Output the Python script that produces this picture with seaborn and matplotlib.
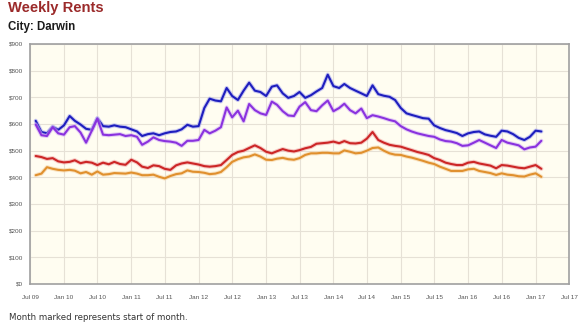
import matplotlib
matplotlib.use("Agg")
import matplotlib.pyplot as plt
import matplotlib.patheffects as pe
import pandas as pd
import seaborn as sns

# Monthly observations, Aug 2009 - Feb 2017
months = pd.date_range("2009-08-01", "2017-02-01", freq="MS")

series_names = ["Houses 4 bed", "Houses 3 bed", "Units 3 bed", "Units 2 bed"]

houses_4 = [
    612, 570, 565, 590, 578, 595, 630, 612, 598, 582, 578, 622, 592, 590, 595,
    590, 588, 580, 572, 555, 562, 565, 558, 565, 570, 572, 580, 597, 590, 592,
    660, 695, 688, 685, 735, 705, 690, 725, 755, 725, 720, 705, 740, 745, 715,
    698, 705, 720, 698, 708, 722, 735, 785, 742, 735, 750, 735, 725, 715, 705,
    745, 712, 706, 702, 690, 660, 640, 634, 628, 622, 620, 595, 585, 577, 572,
    566, 555, 565, 570, 572, 561, 556, 552, 575, 572, 562, 548, 540, 552, 575,
    572,
]
houses_3 = [
    598, 558, 555, 588, 565, 560, 588, 592, 568, 530, 575, 620, 560, 558, 560,
    562, 555, 558, 552, 522, 534, 550, 540, 536, 534, 530, 518, 537, 537, 540,
    578, 565, 575, 588, 662, 625, 650, 610, 675, 652, 640, 634, 684, 672, 648,
    632, 630, 665, 682, 652, 648, 670, 688, 648, 660, 676, 652, 640, 658, 622,
    633, 628, 622, 615, 610, 592, 580, 572, 565, 560, 555, 552, 542, 536, 534,
    528, 518, 520, 530, 540, 530, 520, 510, 540, 530, 525, 520, 505, 512, 515,
    537,
]
units_3 = [
    480, 476, 469, 472, 460, 456, 458, 464, 453, 458, 455, 446, 455, 449, 458,
    450, 447, 466, 456, 440, 435, 445, 442, 432, 428, 445, 452, 456, 452, 448,
    442, 440, 442, 446, 465, 484, 495, 500, 510, 520, 510, 496, 490, 498, 506,
    500, 497, 502, 509, 514, 526, 528, 530, 534, 528, 536, 528, 527, 530, 545,
    570, 540, 530, 522, 518, 515, 508, 502, 495, 490, 484, 472, 465, 455, 450,
    446, 446, 455, 458, 452, 448, 444, 434, 446, 444, 440, 436, 434, 440, 446,
    432,
]
units_2 = [
    408, 414, 438, 432, 428, 426, 428, 425, 415, 420, 410, 422, 410, 412, 416,
    415, 414, 418, 414, 408, 408, 410, 402, 396, 405, 412, 415, 426, 421, 420,
    417, 412, 414, 420, 438, 458, 468, 475, 478, 486, 478, 466, 465, 470, 473,
    468, 466, 472, 484, 490, 490, 492, 492, 490, 490, 501, 496, 490, 492, 500,
    510, 512, 500, 490, 485, 484, 478, 474, 468, 462, 455, 450, 440, 432, 424,
    424, 424, 430, 432, 424, 420, 416, 409, 415, 410, 408, 404, 403, 410, 415,
    402,
]

line_colors = ["#1e1ebe", "#8a32de", "#cc2626", "#e0902e"]
glow_colors = ["#a4a4ee", "#d2aef5", "#f0a8a8", "#f6d2a2"]

y_ticks = list(range(0, 1000, 100))
y_labels = ["$" + str(v) for v in y_ticks]

frames = []
for name, vals in zip(series_names, [houses_4, houses_3, units_3, units_2]):
    frames.append(pd.DataFrame({"month": months, "rent": vals, "series": name}))
df = pd.concat(frames, ignore_index=True)

sns.set_theme(style="white")
plt.rcParams["font.family"] = ["Liberation Sans", "DejaVu Sans"]

fig = plt.figure(figsize=(5.8, 3.28), dpi=100)
ax = fig.add_axes([30 / 580, 1 - 284 / 328, 539 / 580, 240 / 328])
ax.set_facecolor("#fffdf1")

sns.lineplot(
    data=df, x="month", y="rent", hue="series", hue_order=series_names,
    palette=line_colors, linewidth=1.5, legend=False, ax=ax, zorder=3,
)
for line, glow in zip(ax.get_lines(), glow_colors):
    line.set_path_effects([pe.Stroke(linewidth=3.0, foreground=glow, alpha=0.6), pe.Normal()])

# axes scales and grid
ax.set_xlim(pd.Timestamp("2009-07-01"), pd.Timestamp("2017-07-01"))
ax.set_ylim(0, 900)
xticks = pd.date_range("2009-07-01", "2017-07-01", freq="6MS")
ax.set_xticks(xticks)
ax.set_xticklabels([d.strftime("%b %y") for d in xticks])
ax.set_yticks(y_ticks)
ax.set_yticklabels(y_labels)
ax.grid(True, color="#e6e1d6", linewidth=0.8, zorder=0)
ax.set_axisbelow(True)
ax.set_xlabel("")
ax.set_ylabel("")
ax.tick_params(axis="both", labelsize=4.6, labelcolor="#555555", length=3,
               width=0.6, color="#999999", pad=2, direction="out")
ax.tick_params(axis="x", pad=5)
for sp in ax.spines.values():
    sp.set_color("#a0a0a0")
    sp.set_linewidth(1.2)
    sp.set_visible(True)

fig.text(8 / 580, 1 - 8 / 328, "Weekly Rents", color="#9b2a2a",
         fontsize=10.6, fontweight="bold", va="center", ha="left")
fig.text(8 / 580, 1 - 27 / 328, "City: Darwin", color="#1a1a1a",
         fontsize=8.3, fontweight="bold", va="center", ha="left")
fig.text(9 / 580, 1 - 318 / 328, "Month marked represents start of month.",
         color="#333333", fontsize=6.2, family=["DejaVu Sans"],
         va="center", ha="left")

fig.savefig("out.png", dpi=100, facecolor="white")
